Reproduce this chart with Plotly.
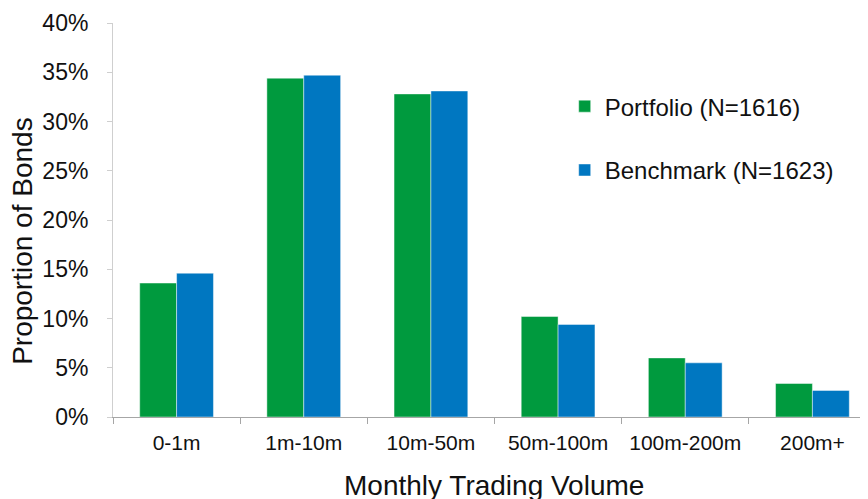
import plotly.graph_objects as go

# Share of bonds by monthly trading volume bucket
categories = ["0-1m", "1m-10m", "10m-50m", "50m-100m", "100m-200m", "200m+"]
portfolio = [0.136, 0.344, 0.328, 0.102, 0.060, 0.034]
benchmark = [0.146, 0.347, 0.331, 0.094, 0.055, 0.027]
y_ticks = [0, 0.05, 0.10, 0.15, 0.20, 0.25, 0.30, 0.35, 0.40]
y_tick_text = ["0%", "5%", "10%", "15%", "20%", "25%", "30%", "35%", "40%"]

GREEN = "#009a3e"
BLUE = "#0077c1"
FONT = "Liberation Sans, Arial, sans-serif"
TEXT = "#111111"

fig = go.Figure()

fig.add_trace(go.Bar(
    x=categories, y=portfolio, name="Portfolio (N=1616)",
    marker=dict(color=GREEN, line=dict(color="rgba(255,255,255,0.45)", width=1)),
    legend="legend", showlegend=True,
))
fig.add_trace(go.Bar(
    x=categories, y=benchmark, name="Benchmark (N=1623)",
    marker=dict(color=BLUE, line=dict(color="rgba(255,255,255,0.45)", width=1)),
    legend="legend2", showlegend=True,
))

legend_style = dict(
    font=dict(family=FONT, size=24, color=TEXT),
    bgcolor="rgba(0,0,0,0)",
    xanchor="left", yanchor="top",
)

# page has an 8px body margin, so the figure sits 8px right/down of the window
fig.update_layout(
    width=868, height=499,
    margin=dict(l=105, r=0, t=15, b=90),
    paper_bgcolor="white",
    plot_bgcolor="white",
    font=dict(family=FONT, color=TEXT),
    showlegend=True,
    barmode="group",
    bargap=0.42,
    bargroupgap=0,
    legend=dict(x=0.592, y=0.845, **legend_style),
    legend2=dict(x=0.592, y=0.683, **legend_style),
    xaxis=dict(
        range=[-0.5, 5.5],
        showline=True, linecolor="#a6a6a6", linewidth=1,
        ticks="outside", tickson="boundaries", ticklen=6, tickcolor="#a6a6a6",
        tickfont=dict(size=21, color=TEXT),
        ticklabelstandoff=7,
        showgrid=False, zeroline=False, fixedrange=True, automargin=False,
    ),
    yaxis=dict(
        range=[0, 0.40],
        tickvals=y_ticks, ticktext=y_tick_text,
        showline=True, linecolor="#cfcfcf", linewidth=1,
        ticks="outside", ticklen=5, tickcolor="#cfcfcf",
        tickfont=dict(size=23, color=TEXT),
        ticklabelstandoff=14,
        showgrid=False, zeroline=False, fixedrange=True, automargin=False,
    ),
    annotations=[
        dict(text="Monthly Trading Volume", xref="paper", yref="paper",
             x=0.499, y=-0.173, xanchor="center", yanchor="middle",
             showarrow=False, font=dict(size=28, color=TEXT)),
        dict(text="Proportion of Bonds", xref="paper", yref="paper",
             x=-0.118, y=0.447, xanchor="center", yanchor="middle", textangle=-90,
             showarrow=False, font=dict(size=28, color=TEXT)),
        # chart title sits mostly above the visible area, only descenders peek in
        dict(text="Monthly Trading Volume ($)", xref="paper", yref="paper",
             x=0.17, y=1.04, xanchor="left", yanchor="bottom",
             showarrow=False, font=dict(size=28, color="#444444")),
    ],
)

fig.write_html("out.html")
